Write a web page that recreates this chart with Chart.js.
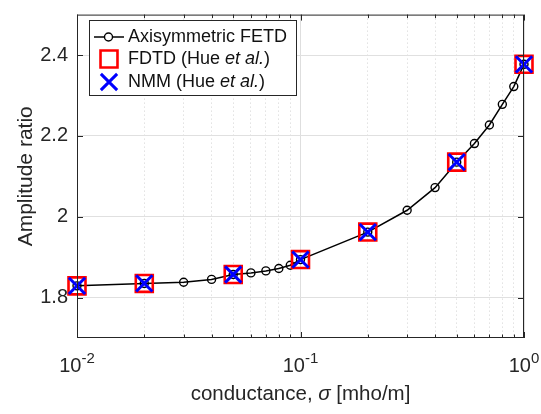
<!DOCTYPE html>
<html>
<head>
<meta charset="utf-8">
<script src="https://cdn.jsdelivr.net/npm/chart.js@4/dist/chart.umd.min.js"></script>
<style>
  html, body { margin: 0; padding: 0; background: #fff; }
  canvas { display: block; }
</style>
</head>
<body>
<canvas id="ampChart" width="541" height="414"></canvas>
<script>
// conductance sweep [mho/m] and the axisymmetric FETD amplitude ratio
const sigma = [0.01, 0.02, 0.03, 0.04, 0.05, 0.06, 0.07, 0.08, 0.09,
               0.1, 0.2, 0.3, 0.4, 0.5, 0.6, 0.7, 0.8, 0.9, 1];
const fetdRatio = [1.829, 1.835, 1.838, 1.845, 1.857, 1.861, 1.866, 1.872, 1.880,
                   1.894, 1.962, 2.016, 2.072, 2.135, 2.181, 2.227, 2.278, 2.322, 2.377];

// published FDTD / NMM results (Hue et al.)
const refSigma = [0.01, 0.02, 0.05, 0.1, 0.2, 0.5, 1];
const fdtdRatio = [1.829, 1.835, 1.857, 1.894, 1.962, 2.135, 2.377];
const nmmRatio = [1.829, 1.835, 1.857, 1.894, 1.962, 2.135, 2.377];

// axis ticks
const xTicks = [0.01, 0.02, 0.03, 0.04, 0.05, 0.06, 0.07, 0.08, 0.09,
                0.1, 0.2, 0.3, 0.4, 0.5, 0.6, 0.7, 0.8, 0.9, 1];
const xDecades = [0.01, 0.1, 1];
const xDecadeExp = ['-2', '-1', '0'];
const yTicks = [1.8, 2, 2.2, 2.4];

const FONT = '"Liberation Sans", Arial, Helvetica, sans-serif';
const INK = '#262626';

const toPoints = (xs, ys) => xs.map((v, i) => ({ x: v, y: ys[i] }));

// draws a list of [text, font] pieces one after another, returns end x
function drawRuns(ctx, runs, x, y) {
    runs.forEach(([txt, font]) => {
        ctx.font = font;
        ctx.fillText(txt, x, y);
        x += ctx.measureText(txt).width;
    });
    return x;
}

function runsWidth(ctx, runs) {
    let w = 0;
    runs.forEach(([txt, font]) => {
        ctx.font = font;
        w += ctx.measureText(txt).width;
    });
    return w;
}

// box, inward ticks, x labels with exponents, x title and the legend
const axesDecor = {
    id: 'axesDecor',
    afterDraw(chart) {
        const { ctx, chartArea: a, scales: { x, y } } = chart;
        ctx.save();

        ctx.strokeStyle = INK;
        ctx.lineWidth = 1;
        ctx.beginPath();
        xTicks.forEach(v => {
            const px = Math.round(x.getPixelForValue(v)) + 0.5;
            const len = xDecades.includes(v) ? 6 : 3.5;
            ctx.moveTo(px, a.bottom);
            ctx.lineTo(px, a.bottom - len);
            ctx.moveTo(px, a.top);
            ctx.lineTo(px, a.top + len);
        });
        yTicks.forEach(v => {
            const py = Math.round(y.getPixelForValue(v)) + 0.5;
            ctx.moveTo(a.left, py);
            ctx.lineTo(a.left + 6, py);
            ctx.moveTo(a.right, py);
            ctx.lineTo(a.right - 6, py);
        });
        ctx.stroke();
        ctx.strokeRect(a.left + 0.5, a.top + 0.5, a.width - 1, a.height - 1);

        // decade labels 10^n
        ctx.fillStyle = INK;
        ctx.textBaseline = 'alphabetic';
        ctx.textAlign = 'left';
        const baseFont = '20px ' + FONT;
        const supFont = '15px ' + FONT;
        xDecades.forEach((v, i) => {
            ctx.font = baseFont;
            const wBase = ctx.measureText('10').width;
            ctx.font = supFont;
            const wSup = ctx.measureText(xDecadeExp[i]).width;
            const px = x.getPixelForValue(v);
            let sx = px - (wBase + wSup) / 2;
            ctx.font = baseFont;
            ctx.fillText('10', sx, 372);
            ctx.font = supFont;
            ctx.fillText(xDecadeExp[i], sx + wBase, 363);
        });

        // x axis title
        const titleRuns = [
            ['conductance, ', '20.5px ' + FONT],
            ['\u03C3', 'italic 20.5px ' + FONT],
            [' [mho/m]', '20.5px ' + FONT]
        ];
        const tw = runsWidth(ctx, titleRuns);
        drawRuns(ctx, titleRuns, (a.left + a.right) / 2 - tw / 2, 400);

        // legend
        const lx = 89.5, ly = 20.5, lw = 207, lh = 75;
        ctx.fillStyle = '#fff';
        ctx.fillRect(lx, ly, lw, lh);
        ctx.strokeStyle = INK;
        ctx.lineWidth = 1;
        ctx.strokeRect(lx, ly, lw, lh);

        const keyX = 109;
        const rows = [37, 59, 82];
        const textX = 128;

        ctx.strokeStyle = '#000';
        ctx.lineWidth = 1.5;
        ctx.beginPath();
        ctx.moveTo(94, rows[0]);
        ctx.lineTo(124, rows[0]);
        ctx.stroke();
        ctx.fillStyle = '#fff';
        ctx.lineWidth = 1.4;
        Chart.helpers.drawPoint(ctx, { pointStyle: 'circle', radius: 4, borderWidth: 1.4 }, keyX - 0.5, rows[0]);

        ctx.strokeStyle = '#ff0000';
        ctx.lineWidth = 2.6;
        Chart.helpers.drawPoint(ctx, { pointStyle: 'rect', radius: 12, borderWidth: 2.6 }, keyX, rows[1]);

        ctx.strokeStyle = '#0000ff';
        ctx.lineWidth = 3;
        Chart.helpers.drawPoint(ctx, { pointStyle: 'crossRot', radius: 11.5, borderWidth: 3 }, keyX, rows[2]);

        ctx.fillStyle = '#111';
        ctx.textBaseline = 'middle';
        const lf = '18px ' + FONT;
        const lfi = 'italic 18px ' + FONT;
        drawRuns(ctx, [['Axisymmetric FETD', lf]], textX, rows[0]);
        drawRuns(ctx, [['FDTD (Hue ', lf], ['et al.', lfi], [')', lf]], textX, rows[1]);
        drawRuns(ctx, [['NMM (Hue ', lf], ['et al.', lfi], [')', lf]], textX, rows[2]);

        ctx.restore();
    }
};

Chart.defaults.font.family = FONT;
Chart.defaults.color = INK;

new Chart(document.getElementById('ampChart'), {
    type: 'scatter',
    data: {
        datasets: [
            {
                label: 'Axisymmetric FETD',
                data: toPoints(sigma, fetdRatio),
                showLine: true,
                borderColor: '#000',
                borderWidth: 1.5,
                pointStyle: 'circle',
                pointRadius: 4,
                pointBorderWidth: 1.4,
                pointBorderColor: '#000',
                pointBackgroundColor: 'rgba(0,0,0,0)',
                clip: false,
                order: 3
            },
            {
                label: 'FDTD (Hue et al.)',
                data: toPoints(refSigma, fdtdRatio),
                showLine: false,
                pointStyle: 'rect',
                pointRadius: 12,
                pointBorderWidth: 2.6,
                pointBorderColor: '#ff0000',
                pointBackgroundColor: 'rgba(0,0,0,0)',
                clip: false,
                order: 2
            },
            {
                label: 'NMM (Hue et al.)',
                data: toPoints(refSigma, nmmRatio),
                showLine: false,
                pointStyle: 'crossRot',
                pointRadius: 11.5,
                pointBorderWidth: 3,
                pointBorderColor: '#0000ff',
                clip: false,
                order: 1
            }
        ]
    },
    options: {
        responsive: false,
        animation: false,
        events: [],
        layout: { padding: { top: 7, right: 17, left: 0, bottom: 0 } },
        plugins: {
            legend: { display: false },
            tooltip: { enabled: false }
        },
        scales: {
            x: {
                type: 'logarithmic',
                min: 0.01,
                max: 1,
                afterBuildTicks: s => { s.ticks = xTicks.map(v => ({ value: v })); },
                afterFit: s => { s.height = 76; },
                ticks: { display: false },
                grid: {
                    drawTicks: false,
                    lineWidth: 1,
                    color: c => (c.tick && xDecades.includes(c.tick.value)) ? '#dedede' : '#d2d2d2'
                },
                border: {
                    display: false,
                    dash: c => (c.tick && !xDecades.includes(c.tick.value)) ? [1, 3] : []
                }
            },
            y: {
                min: 1.7,
                max: 2.5,
                afterBuildTicks: s => { s.ticks = yTicks.map(v => ({ value: v })); },
                afterFit: s => { s.width = 77; s.paddingTop = 0; s.paddingBottom = 0; },
                ticks: {
                    padding: 9,
                    font: { size: 20 },
                    color: INK,
                    callback: v => (v === 2 ? '2' : v.toFixed(1))
                },
                title: {
                    display: true,
                    text: 'Amplitude ratio',
                    font: { size: 21 },
                    color: INK,
                    padding: { top: 14, bottom: 0 }
                },
                grid: {
                    drawTicks: false,
                    lineWidth: 1,
                    color: '#e0e0e0'
                },
                border: { display: false }
            }
        }
    },
    plugins: [axesDecor]
});
</script>
</body>
</html>
